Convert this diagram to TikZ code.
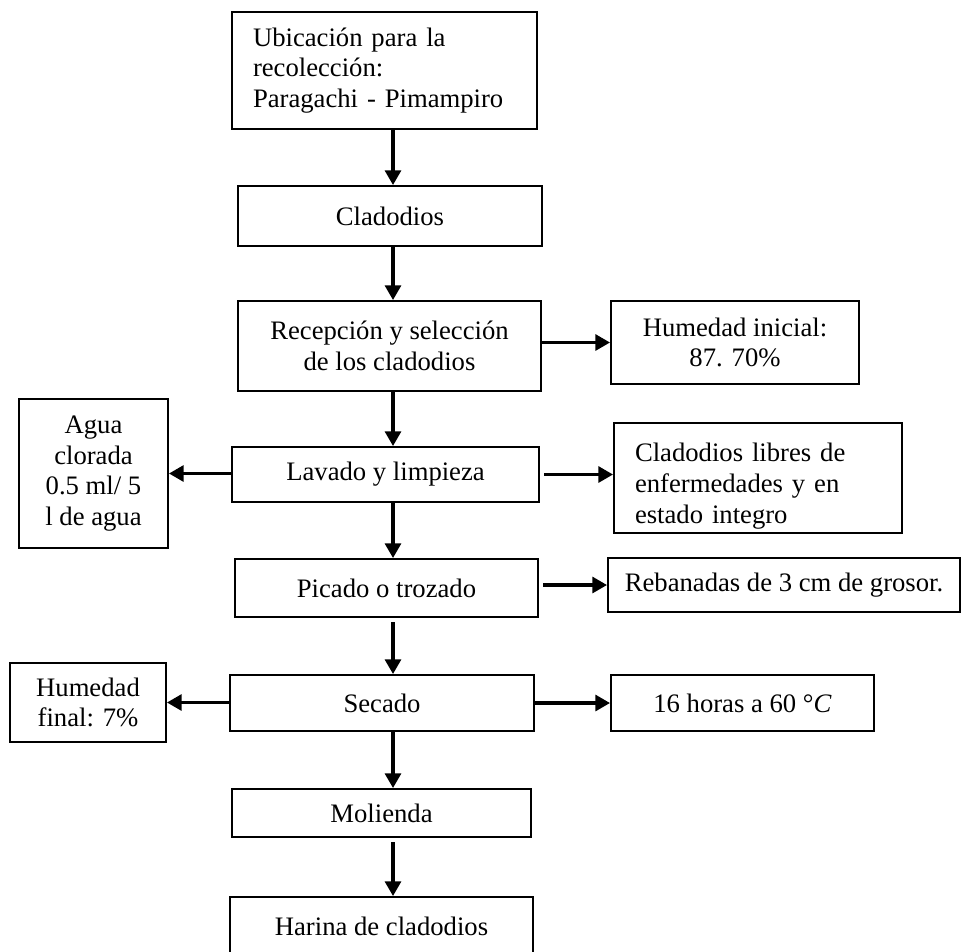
\documentclass[tikz,border=0pt]{standalone}
\usepackage{fontspec}
\setmainfont{Liberation Serif}
\usepackage{tikz}
\usetikzlibrary{arrows.meta}
\usetikzlibrary{shapes}

\tikzset{
  caja/.style={draw, line width=1.5pt, inner sep=0.75pt, align=center,
    font=\fontsize{20}{23}\selectfont},
  flecha/.style={line width=2.3pt, -{Triangle[length=11pt,width=12pt]}}
}

\begin{document}
\begin{tikzpicture}[x=0.75pt,y=0.75pt,yscale=-1,xscale=1]
\useasboundingbox (0,0) rectangle (962,951);
\clip (0,0) rectangle (962,951);
%column of the main arrows
\coordinate (eje) at (393,0);

% Text Node
\node [caja, align=left, inner xsep=15.75pt, text width=197.25pt, minimum height=87.75pt] (ubicacion) at (384.5,70.5) {Ubicación para la\\recolección:\\Paragachi - Pimampiro};
% Text Node
\node [caja, minimum width=228pt, minimum height=45pt] (cladodios) at (390,216) {Cladodios};
% Text Node
\node [caja, minimum width=227.25pt, minimum height=67.5pt] (recepcion) at (389.5,346) {Recepción y selección\\de los cladodios};
% Text Node
\node [caja, minimum width=186pt, minimum height=62.25pt] (humini) at (735,342.5) {Humedad inicial:\\87. 70\%};
% Text Node
\node [caja, minimum width=230.25pt, minimum height=41.25pt] (lavado) at (385.5,474.5) {Lavado y limpieza};
% Text Node
\node [caja, minimum width=111.75pt, minimum height=111.75pt] (agua) at (93.5,473.5) {Agua\\clorada\\0.5 ml/ 5\\l de agua};
% Text Node
\node [caja, align=left, inner xsep=15.75pt, text width=184.5pt, minimum height=82.5pt] (libres) at (758,478) {\rule{0pt}{26pt}Cladodios libres de\\enfermedades y en\\estado integro};
% Text Node
\node [caja, minimum width=227.25pt, minimum height=43.5pt] (picado) at (386.5,588) {Picado o trozado};
% Text Node
\node [caja, minimum width=264pt, minimum height=40.5pt] (rebanadas) at (784,585) {Rebanadas de 3 cm de grosor.};
% Text Node
\node [caja, minimum width=228pt, minimum height=42pt] (secado) at (382,703) {Secado};
% Text Node
\node [caja, minimum width=117pt, minimum height=59.25pt] (humfin) at (88,702.5) {Humedad\\final: 7\%};
% Text Node
\node [caja, minimum width=197.25pt, minimum height=42pt] (horas) at (742.5,703) {16 horas a 60 °\textit{C}};
% Text Node
\node [caja, minimum width=224.25pt, minimum height=36pt] (molienda) at (381.5,813) {Molienda};
% Text Node
\node [caja, minimum width=227.25pt, minimum height=43.5pt] (harina) at (381.5,926) {Harina de cladodios};

%Straight Lines
\draw [flecha] (ubicacion.south -| eje) -- (cladodios.north -| eje);
\draw [flecha] (cladodios.south -| eje) -- (recepcion.north -| eje);
\draw [flecha] (recepcion.south -| eje) -- (lavado.north -| eje);
\draw [flecha] (lavado.south -| eje) -- (picado.north -| eje);
\draw [flecha, shorten <=3pt] (picado.south -| eje) -- (secado.north -| eje);
\draw [flecha] (secado.south -| eje) -- (molienda.north -| eje);
\draw [flecha, shorten <=3pt] (molienda.south -| eje) -- (harina.north -| eje);
%Straight Lines
\draw [flecha] (recepcion.east |- humini.west) -- (humini.west);
\draw [flecha] (lavado.west |- agua.east) -- (agua.east);
\draw [flecha, shorten <=3pt] (lavado.east) -- (lavado.east -| libres.west);
\draw [flecha, shorten <=3pt] (picado.east |- rebanadas.west) -- (rebanadas.west);
\draw [flecha] (secado.west |- humfin.east) -- (humfin.east);
\draw [flecha] (secado.east) -- (horas.west);

\end{tikzpicture}
\end{document}
